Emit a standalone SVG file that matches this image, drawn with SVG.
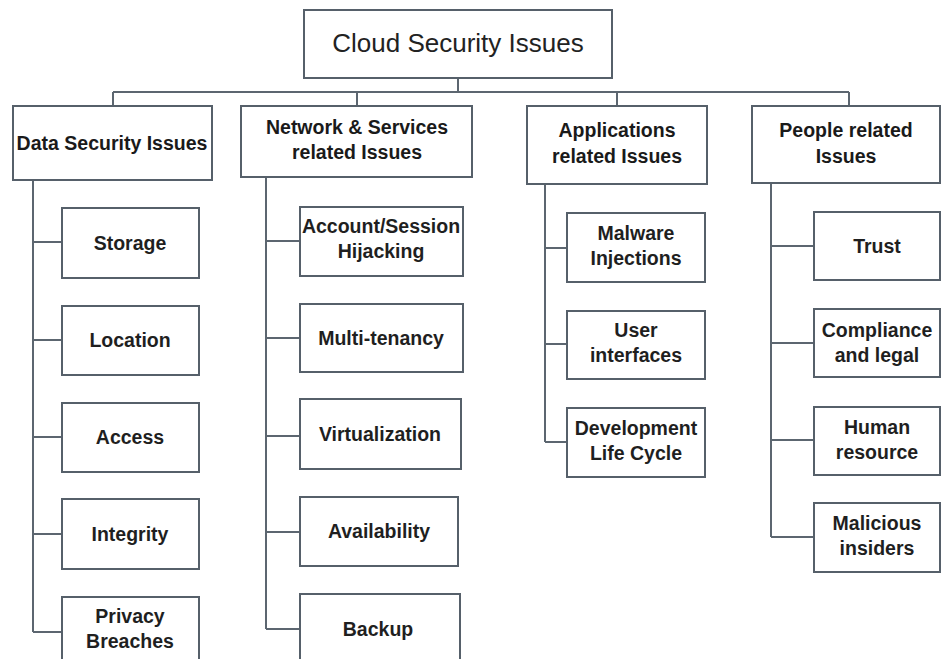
<svg xmlns="http://www.w3.org/2000/svg" width="942" height="659" viewBox="0 0 942 659">
<style>
.box{fill:#ffffff;stroke:#56606a;stroke-width:2}
.ln{fill:none;stroke:#5c6670;stroke-width:2}
.top{font-family:"Liberation Sans",Arial,sans-serif;font-size:26px;fill:#222;text-anchor:middle}
.hd{font-family:"Liberation Sans",Arial,sans-serif;font-size:19.5px;font-weight:bold;fill:#1a1a1a;text-anchor:middle}
.ch{font-family:"Liberation Sans",Arial,sans-serif;font-size:19.5px;font-weight:bold;fill:#1f1f1f;text-anchor:middle}
</style>
<rect width="942" height="659" fill="#ffffff"/>
<g id="connectors">
<path class="ln" d="M458 78V92M113 92H849M113 92V106M357 92V106M617 92V106M849 92V106"/>
<path class="ln" d="M33 180V632M33 242H62M33 340H62M33 437H62M33 534H62M33 632H62"/>
<path class="ln" d="M266 177V629M266 241H300M266 338H300M266 436H300M266 532H300M266 629H300"/>
<path class="ln" d="M545 184V442M545 248H567M545 344H567M545 442H567"/>
<path class="ln" d="M771 183V537M771 246H814M771 343H814M771 440H814M771 537H814"/>
</g>
<g id="root"><rect class="box" x="304" y="10" width="308" height="68"/><text class="top" x="458" y="52">Cloud Security Issues</text></g>
<g id="data"><rect class="box" x="13" y="106" width="199" height="74"/><text class="hd" x="112" y="150">Data Security Issues</text></g>
<g id="network"><rect class="box" x="241" y="106" width="231" height="71"/><text class="hd" x="357" y="134">Network &amp; Services</text><text class="hd" x="357" y="159">related Issues</text></g>
<g id="applications"><rect class="box" x="527" y="106" width="180" height="78"/><text class="hd" x="617" y="137">Applications</text><text class="hd" x="617" y="163">related Issues</text></g>
<g id="people"><rect class="box" x="752" y="106" width="188" height="77"/><text class="hd" x="846" y="137">People related</text><text class="hd" x="846" y="163">Issues</text></g>

<g id="storage"><rect class="box" x="62" y="208" width="137" height="70"/><text class="ch" x="130" y="250">Storage</text></g>
<g id="location"><rect class="box" x="62" y="306" width="137" height="69"/><text class="ch" x="130" y="347">Location</text></g>
<g id="access"><rect class="box" x="62" y="403" width="137" height="69"/><text class="ch" x="130" y="444">Access</text></g>
<g id="integrity"><rect class="box" x="62" y="499" width="137" height="70"/><text class="ch" x="130" y="541">Integrity</text></g>
<g id="privacy"><rect class="box" x="62" y="597" width="137" height="70"/><text class="ch" x="130" y="623">Privacy</text><text class="ch" x="130" y="648">Breaches</text></g>

<g id="account"><rect class="box" x="300" y="207" width="163" height="69"/><text class="ch" x="381" y="233">Account/Session</text><text class="ch" x="381" y="258">Hijacking</text></g>
<g id="multitenancy"><rect class="box" x="300" y="304" width="163" height="68"/><text class="ch" x="381" y="345">Multi-tenancy</text></g>
<g id="virtualization"><rect class="box" x="300" y="399" width="161" height="70"/><text class="ch" x="380" y="441">Virtualization</text></g>
<g id="availability"><rect class="box" x="300" y="497" width="158" height="69"/><text class="ch" x="379" y="538">Availability</text></g>
<g id="backup"><rect class="box" x="300" y="594" width="160" height="70"/><text class="ch" x="378" y="636">Backup</text></g>

<g id="malware"><rect class="box" x="567" y="213" width="138" height="69"/><text class="ch" x="636" y="240">Malware</text><text class="ch" x="636" y="265">Injections</text></g>
<g id="userinterfaces"><rect class="box" x="567" y="311" width="138" height="68"/><text class="ch" x="636" y="337">User</text><text class="ch" x="636" y="362">interfaces</text></g>
<g id="development"><rect class="box" x="567" y="408" width="138" height="69"/><text class="ch" x="636" y="435">Development</text><text class="ch" x="636" y="460">Life Cycle</text></g>

<g id="trust"><rect class="box" x="814" y="212" width="126" height="68"/><text class="ch" x="877" y="253">Trust</text></g>
<g id="compliance"><rect class="box" x="814" y="309" width="126" height="68"/><text class="ch" x="877" y="337">Compliance</text><text class="ch" x="877" y="362">and legal</text></g>
<g id="human"><rect class="box" x="814" y="407" width="126" height="68"/><text class="ch" x="877" y="434">Human</text><text class="ch" x="877" y="459">resource</text></g>
<g id="malicious"><rect class="box" x="814" y="503" width="126" height="69"/><text class="ch" x="877" y="530">Malicious</text><text class="ch" x="877" y="555">insiders</text></g>
</svg>
